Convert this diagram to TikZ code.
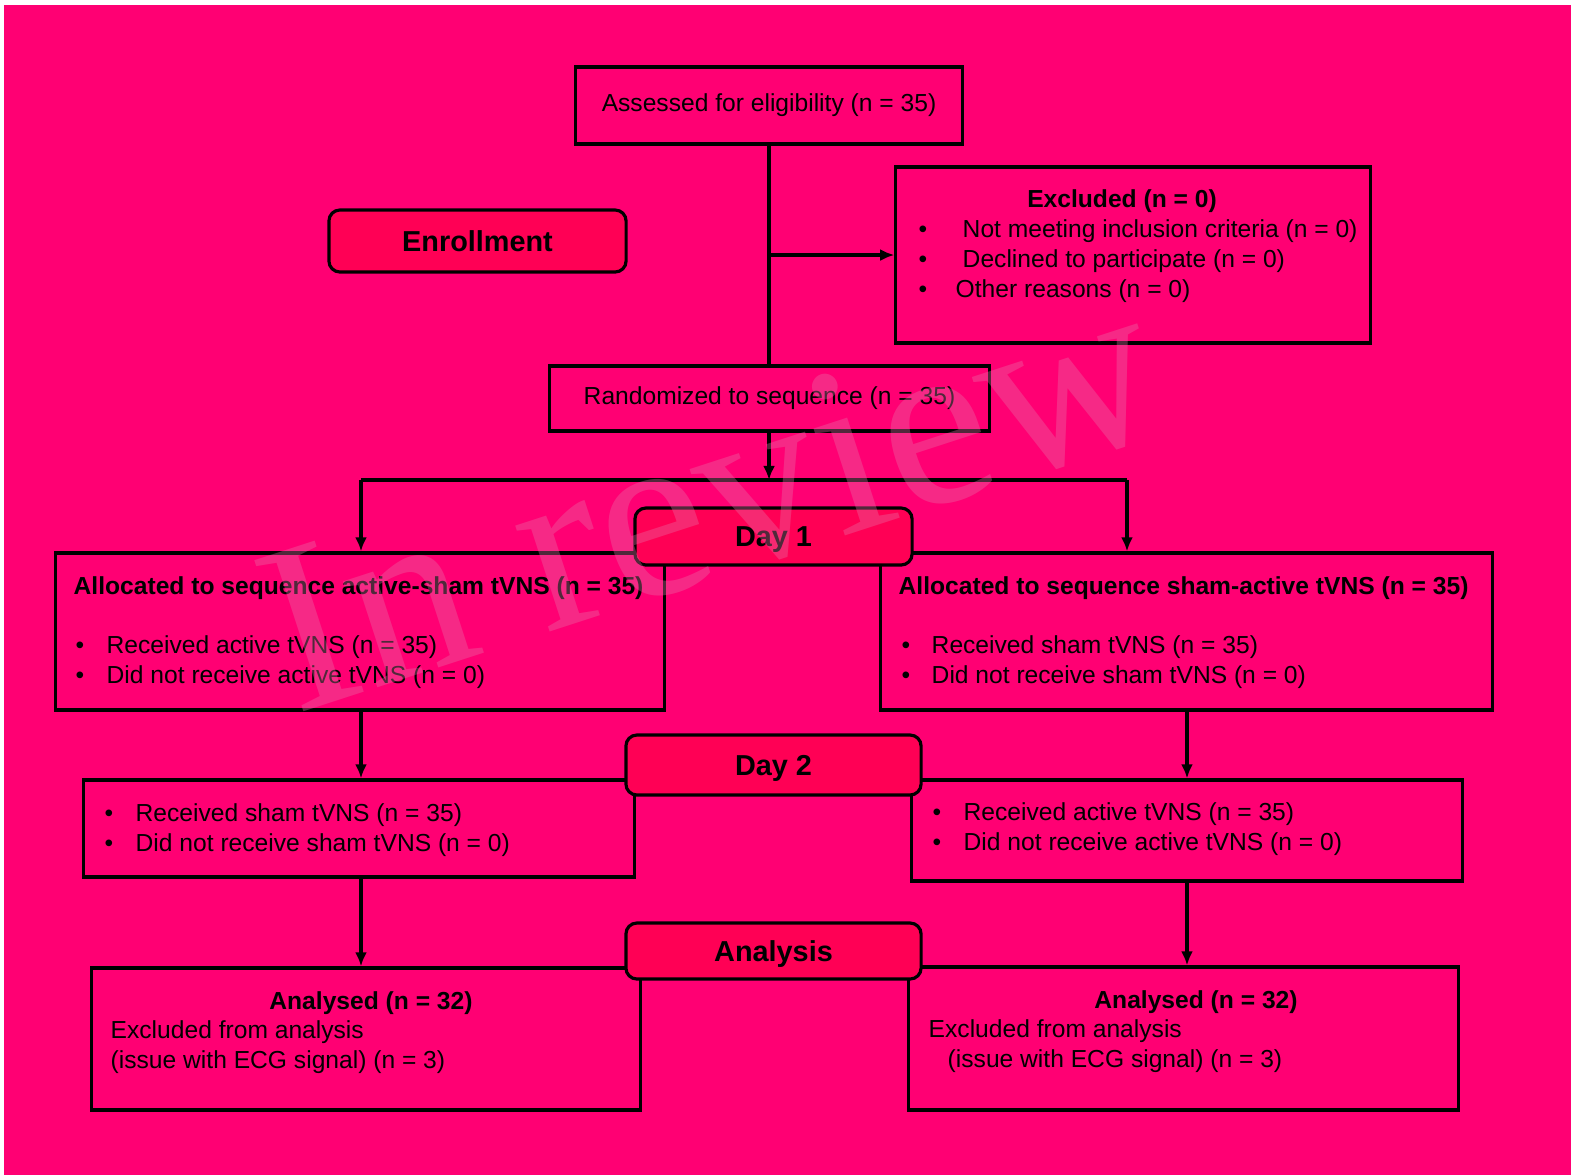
\documentclass[tikz,border=0pt]{standalone}
\usepackage{fontspec}
\setmainfont{Liberation Sans}
\newfontfamily\wmfont{Liberation Serif}
\usetikzlibrary{positioning,arrows.meta}

\definecolor{bgpink}{RGB}{255,0,115}
\definecolor{tagred}{RGB}{255,0,85}
\definecolor{wmpink}{RGB}{230,120,170}

\tikzset{
  box/.style={draw=black, line width=0.9pt, inner sep=0pt, font=\fontsize{7}{8.5}\selectfont},
  tag/.style={box, rounded corners=0.11cm, fill=tagred, text depth=0pt, font=\fontsize{8.2}{9}\selectfont\bfseries},
  txt/.style={inner sep=0pt, font=\fontsize{7}{8.5}\selectfont, align=left},
  ttl/.style={inner sep=0pt, font=\fontsize{7}{8.5}\selectfont\bfseries},
  conn/.style={line width=0.9pt},
  wm/.style={inner sep=0pt, text=wmpink, text opacity=0.35, font=\wmfont\fontsize{69}{69}\selectfont},
}
\newcommand{\itm}[2]{\makebox[#1][l]{\textbullet}#2}

\begin{document}
\begin{tikzpicture}[x=0.01cm, y=-0.01cm, >={Latex[length=4pt,width=3.4pt]}]
  \fill[white] (0,0) rectangle (1571,1175);
  \fill[bgpink] (4,5) rectangle (1571,1175); %background
  \useasboundingbox (0,0) rectangle (1571,1175);

  % enrollment
  \node[box, minimum width=3.86cm, minimum height=0.77cm] (assess) at (769,105.5) {\raisebox{0.8pt}{Assessed for eligibility (n = 35)}};
  \node[box, minimum width=4.74cm, minimum height=1.76cm] (excl) at (1133,255) {};
  \node[ttl] (exclttl) at (1122,201) {Excluded (n = 0)};
  \node[txt, anchor=base west] (excllist) at (918,297) %baseline of last line
    {\itm{0.44cm}{Not meeting inclusion criteria (n = 0)}\\ \itm{0.44cm}{Declined to participate (n = 0)}\\ \itm{0.37cm}{Other reasons (n = 0)}};
  \node[box, minimum width=4.39cm, minimum height=0.65cm] (rand) at (769.5,398.5) {Randomized to sequence (n = 35)};

  % day 1
  \node[box, minimum width=6.08cm, minimum height=1.57cm] (allocA) at (360,631.5) {};
  \node[ttl, anchor=base west] (allocAttl) at (73,594) {Allocated to sequence active-sham tVNS (n = 35)};
  \node[txt, anchor=base west] (allocAlist) at (75,683)
    {\itm{0.31cm}{Received active tVNS (n = 35)}\\ \itm{0.31cm}{Did not receive active tVNS (n = 0)}};
  \node[box, minimum width=6.11cm, minimum height=1.57cm] (allocB) at (1186.5,631.5) {};
  \node[ttl, anchor=base west] (allocBttl) at (898,594) {Allocated to sequence sham-active tVNS (n = 35)};
  \node[txt, anchor=base west] (allocBlist) at (901,683)
    {\itm{0.30cm}{Received sham tVNS (n = 35)}\\ \itm{0.30cm}{Did not receive sham tVNS (n = 0)}};

  % day 2
  \node[box, minimum width=5.50cm, minimum height=0.97cm] (seqA) at (359,828.5) {};
  \node[txt, anchor=base west] (seqAlist) at (104,851)
    {\itm{0.31cm}{Received sham tVNS (n = 35)}\\ \itm{0.31cm}{Did not receive sham tVNS (n = 0)}};
  \node[box, minimum width=5.50cm, minimum height=1.01cm] (seqB) at (1187,830.5) {};
  \node[txt, anchor=base west] (seqBlist) at (932,850)
    {\itm{0.31cm}{Received active tVNS (n = 35)}\\ \itm{0.31cm}{Did not receive active tVNS (n = 0)}};

  % analysis
  \node[box, minimum width=5.48cm, minimum height=1.42cm] (anaA) at (366,1039) {};
  \node[ttl] (anaAttl) at (371,1003) {Analysed (n = 32)};
  \node[txt, anchor=base west] (anaAlist) at (110,1068)
    {Excluded from analysis\\ (issue with ECG signal) (n = 3)};
  \node[box, minimum width=5.49cm, minimum height=1.43cm] (anaB) at (1183.5,1038.5) {};
  \node[ttl] (anaBttl) at (1196,1002) {Analysed (n = 32)};
  \node[txt, anchor=base west] (anaBlist) at (928,1067)
    {Excluded from analysis\\ \hspace*{0.19cm}(issue with ECG signal) (n = 3)};

  % stage tags
  \node[tag, minimum width=2.97cm, minimum height=0.62cm] (enroll) at (477.5,241) {Enrollment};
  \node[tag, minimum width=2.77cm, minimum height=0.57cm] (day1) at (773.5,536.5) {Day 1};
  \node[tag, minimum width=2.95cm, minimum height=0.60cm] (day2) at (773.5,765) {Day 2};
  \node[tag, minimum width=2.95cm, minimum height=0.56cm] (analysis) at (773.5,951) {Analysis};

  % connectors
  \coordinate (split) at (assess.south |- excl.west);
  \coordinate (fork) at (769,480);
  \coordinate (forkL) at (361,480);
  \coordinate (forkR) at (1127,480);
  \draw[conn] (assess.south) -- (assess.south |- rand.north);
  \draw[conn,->] (split) -- (excl.west);
  \draw[conn,->] (rand.south -| fork) -- (fork);
  \draw[conn] (forkL) -- (forkR);
  \draw[conn,->] (forkL) -- (forkL |- allocA.north);
  \draw[conn,->] (forkR) -- (forkR |- allocB.north);
  \draw[conn,->] (allocA.south -| forkL) -- (forkL |- seqA.north);
  \draw[conn,->] (allocB.south -| seqB.north) -- (seqB.north);
  \draw[conn,->] (seqA.south -| forkL) -- (forkL |- anaA.north);
  \draw[conn,->] (seqB.south) -- (seqB.south |- anaB.north);

  % watermark
  \node[wm, rotate=18, anchor=base west] (watermark) at (295,715) {In review};
\end{tikzpicture}
\end{document}
